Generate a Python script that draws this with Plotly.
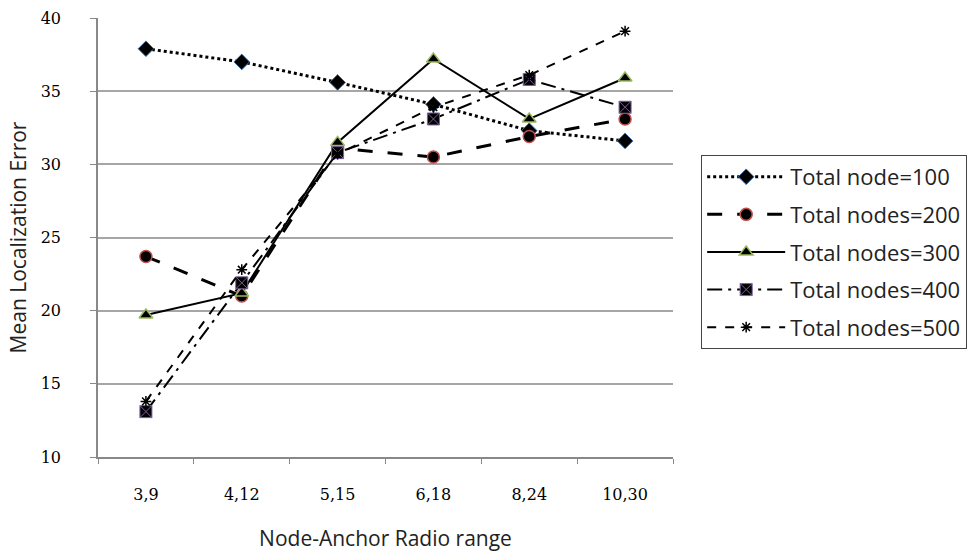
import plotly.graph_objects as go

categories = ["3,9", "4,12", "5,15", "6,18", "8,24", "10,30"]
series_names = ["Total node=100", "Total nodes=200", "Total nodes=300", "Total nodes=400", "Total nodes=500"]
n100 = [37.9, 37.0, 35.6, 34.1, 32.3, 31.6]
n200 = [23.7, 21.0, 31.1, 30.5, 31.9, 33.1]
n300 = [19.7, 21.2, 31.5, 37.2, 33.1, 35.9]
n400 = [13.1, 21.9, 30.8, 33.1, 35.8, 33.9]
n500 = [13.8, 22.8, 30.7, 33.9, 36.1, 39.1]

styles = [
    dict(dash="dot", width=3, symbol="diamond", mline="#3a6fb0", mw=1, msize=12),
    dict(dash="longdash", width=3, symbol="circle", mline="#c0504d", mw=1.5, msize=12),
    dict(dash="solid", width=2, symbol="triangle-up", mline="#9bbb59", mw=1.5, msize=12),
    dict(dash="longdashdot", width=2, symbol="square-x", mline="#7d60a0", mw=1, msize=12),
    dict(dash="dash", width=2, symbol="asterisk-open", mline="#666666", mw=1.5, msize=9),
]

fig = go.Figure()
for name, vals, st in zip(series_names, [n100, n200, n300, n400, n500], styles):
    fig.add_trace(go.Scatter(
        x=categories, y=vals, name=name, legendgroup=name, mode="lines+markers",
        line=dict(color="#000000", width=st["width"], dash=st["dash"]),
        marker=dict(symbol=st["symbol"], size=st["msize"], color="#000000",
                    line=dict(color=st["mline"], width=st["mw"])),
    ))

fig.update_layout(
    width=974, height=557,
    margin=dict(l=98, r=301, t=18, b=100, autoexpand=False),
    paper_bgcolor="white", plot_bgcolor="white",
    font=dict(family="Open Sans", color="#222222"),
    showlegend=True,
    legend=dict(
        x=1.049, y=0.688, xanchor="left", yanchor="top",
        bordercolor="#444444", borderwidth=1,
        font=dict(size=22, family="Open Sans", color="#222222"),
        itemwidth=78, tracegroupgap=6, traceorder="grouped",
    ),
    xaxis=dict(
        type="category", range=[-0.5, 5.5], tickson="boundaries",
        ticks="outside", ticklen=5, tickcolor="#888888",
        showline=True, linecolor="#888888", linewidth=1.5,
        showgrid=False, zeroline=False, ticklabelstandoff=22,
        tickfont=dict(family="DejaVu Serif", size=16, color="#000000"),
        title=dict(text="Node-Anchor Radio range", font=dict(size=21, family="Open Sans", color="#222222"), standoff=28),
    ),
    yaxis=dict(
        range=[10, 40], dtick=5, ticks="outside", ticklen=6, tickcolor="#888888",
        showline=True, linecolor="#888888", linewidth=1.5,
        showgrid=True, gridcolor="#a6a6a6", gridwidth=1.5, zeroline=False,
        ticklabelstandoff=26,
        tickfont=dict(family="DejaVu Serif", size=16, color="#000000"),
        title=dict(text="Mean Localization Error", font=dict(size=21, family="Open Sans", color="#222222"), standoff=8),
    ),
)

fig.write_html("out.html")
